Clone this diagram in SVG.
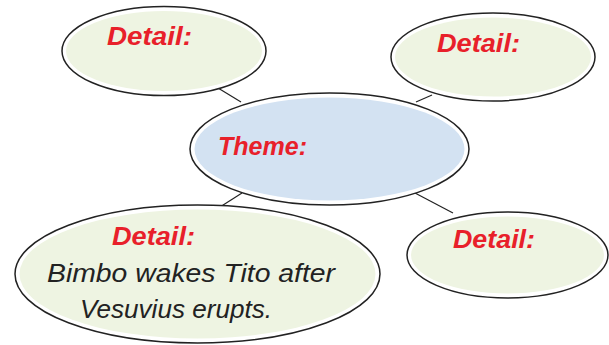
<svg xmlns="http://www.w3.org/2000/svg" width="609" height="345" viewBox="0 0 609 345">
<style>
.outer{fill:#fff;stroke:#222;stroke-width:1.5}
.green{fill:#eef4e2}
.blue{fill:#d3e2f2}
.lbl{font-family:"Liberation Sans",Arial,sans-serif;font-style:italic;font-weight:bold;fill:#e8202a;font-size:26px}
.body{font-family:"Liberation Sans",Arial,sans-serif;font-style:italic;fill:#222;font-size:25px}
.conn line{stroke:#222;stroke-width:1.2}
</style>
<g id="connectors" class="conn">
<line x1="218" y1="88" x2="241" y2="102"/>
<line x1="432" y1="95" x2="416" y2="102"/>
<line x1="242" y1="193" x2="220" y2="207"/>
<line x1="415" y1="193" x2="453" y2="213"/>
</g>
<g id="detail-top-left">
<ellipse class="outer" cx="164" cy="51" rx="102" ry="44.5"/>
<ellipse class="green" cx="164" cy="51" rx="98" ry="40"/>
<text class="lbl" x="107" y="45" textLength="85" lengthAdjust="spacingAndGlyphs">Detail:</text>
</g>
<g id="detail-top-right">
<ellipse class="outer" cx="493" cy="57" rx="102" ry="44"/>
<ellipse class="green" cx="493" cy="57" rx="98" ry="39.5"/>
<text class="lbl" x="437" y="52" textLength="83" lengthAdjust="spacingAndGlyphs">Detail:</text>
</g>
<g id="theme">
<ellipse class="outer" cx="329.5" cy="149" rx="139.5" ry="56"/>
<ellipse class="blue" cx="329.5" cy="149" rx="135" ry="51.5"/>
<text class="lbl" x="218" y="155" textLength="89" lengthAdjust="spacingAndGlyphs">Theme:</text>
</g>
<g id="detail-bottom-left">
<ellipse class="outer" cx="197.5" cy="274" rx="182.5" ry="69"/>
<ellipse class="green" cx="197.5" cy="274" rx="178" ry="64.5"/>
<text class="lbl" x="112" y="245" textLength="83" lengthAdjust="spacingAndGlyphs">Detail:</text>
<text class="body" x="47" y="282" textLength="288" lengthAdjust="spacingAndGlyphs">Bimbo wakes Tito after</text>
<text class="body" x="80" y="318" textLength="192" lengthAdjust="spacingAndGlyphs">Vesuvius erupts.</text>
</g>
<g id="detail-bottom-right">
<ellipse class="outer" cx="507.5" cy="255" rx="100.5" ry="43"/>
<ellipse class="green" cx="507.5" cy="255" rx="96.5" ry="38.5"/>
<text class="lbl" x="453" y="248" textLength="82" lengthAdjust="spacingAndGlyphs">Detail:</text>
</g>
</svg>
